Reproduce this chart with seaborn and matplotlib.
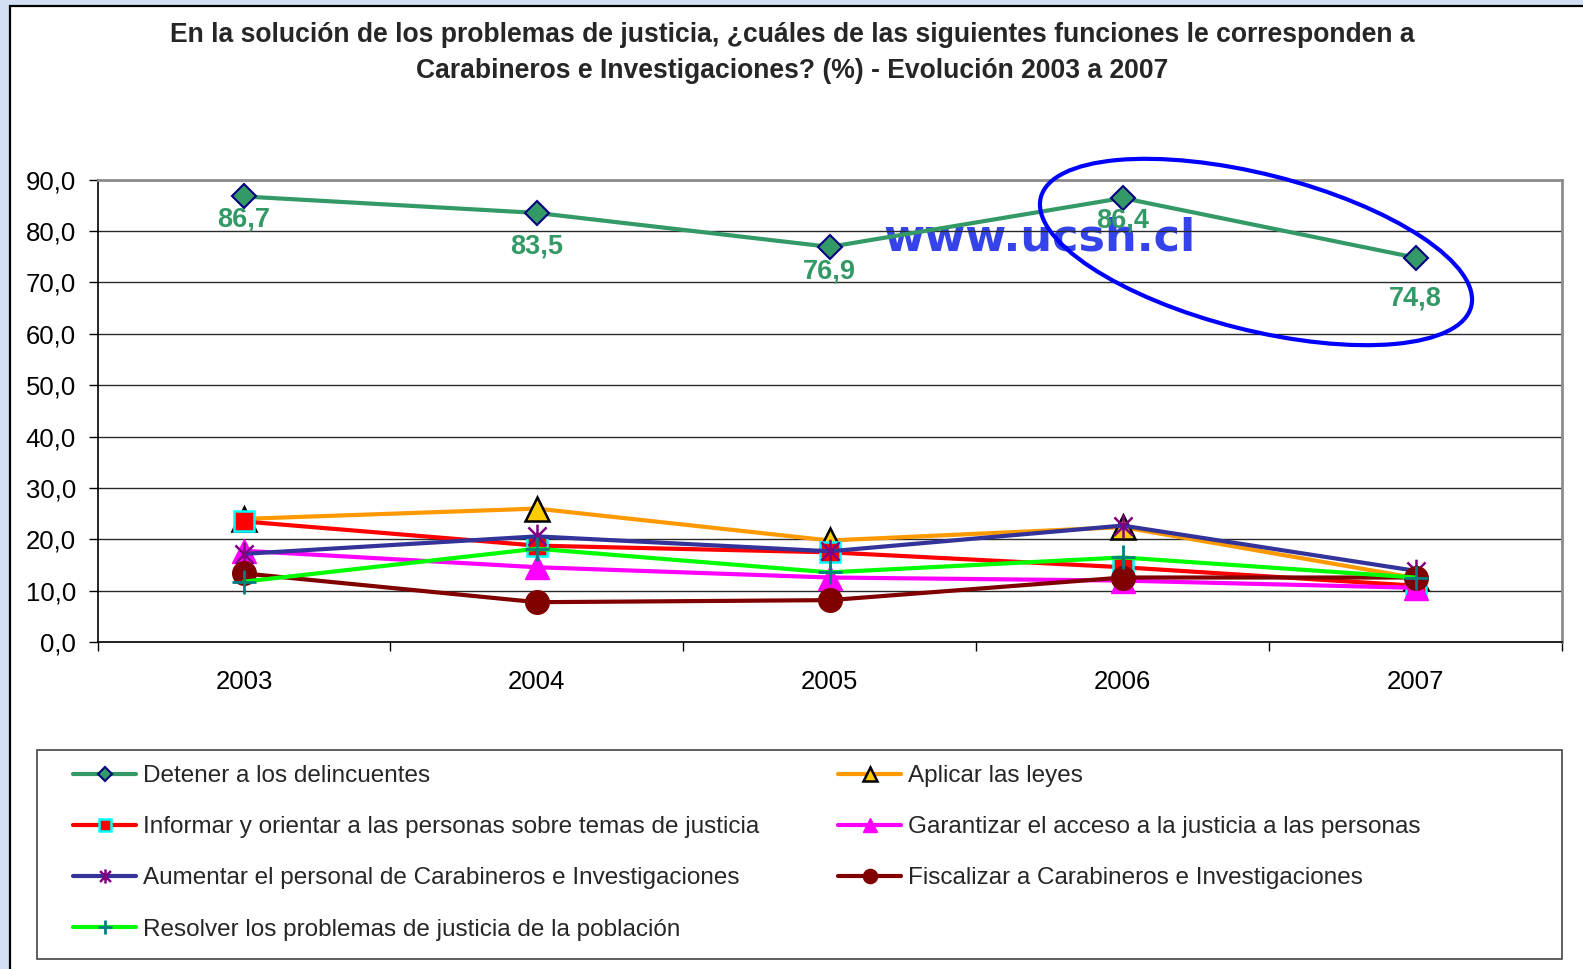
import numpy as np
import pandas as pd
import matplotlib
matplotlib.use("Agg")
import matplotlib.pyplot as plt
from matplotlib.patches import Rectangle, Ellipse
from matplotlib.path import Path
import seaborn as sns

years = ["2003", "2004", "2005", "2006", "2007"]

detener = [86.7, 83.5, 76.9, 86.4, 74.8]
aplicar = [24.0, 26.0, 19.8, 22.4, 12.5]
informar = [23.5, 18.8, 17.5, 14.6, 11.0]
garantizar = [17.8, 14.6, 12.6, 12.0, 10.6]
aumentar = [17.2, 20.6, 17.7, 22.7, 13.9]
fiscalizar = [13.4, 7.8, 8.2, 12.6, 12.6]
resolver = [11.8, 18.2, 13.6, 16.5, 12.6]

labels = [
    "Detener a los delincuentes",
    "Aplicar las leyes",
    "Informar y orientar a las personas sobre temas de justicia",
    "Garantizar el acceso a la justicia a las personas",
    "Aumentar el personal de Carabineros e Investigaciones",
    "Fiscalizar a Carabineros e Investigaciones",
    "Resolver los problemas de justicia de la población",
]

title = ("En la solución de los problemas de justicia, ¿cuáles de las siguientes funciones le corresponden a\n"
         "Carabineros e Investigaciones? (%) - Evolución 2003 a 2007")

sns.set_theme(style="white")
plt.rcParams["font.family"] = ["Liberation Sans", "DejaVu Sans"]

W, H = 1583, 969
fig = plt.figure(figsize=(W / 100, H / 100), dpi=100)
fig.patch.set_facecolor("#d3e0f4")

# white panel with black frame (cut off at right/bottom)
fig.add_artist(Rectangle((10 / W, -0.1), 1.2, (H - 6) / H + 0.1, transform=fig.transFigure,
                         facecolor="white", edgecolor="black", linewidth=1.6, zorder=-10))

ax = fig.add_axes([97.5 / W, 1 - 642.3 / H, (1562 - 97.5) / W, (642.3 - 179.5) / H])

# excel-like star marker (X + vertical)
star = Path([(-1, -1), (1, 1), (-1, 1), (1, -1), (0, -1.3), (0, 1.3)],
            [Path.MOVETO, Path.LINETO, Path.MOVETO, Path.LINETO, Path.MOVETO, Path.LINETO])

pos = np.arange(len(years))
series = [
    (detener, labels[0], dict(color="#339966", marker="D", markersize=12, markerfacecolor="#339966",
                              markeredgecolor="#000080", markeredgewidth=1.5)),
    (aplicar, labels[1], dict(color="#ff9900", marker="^", markersize=17, markerfacecolor="#ffcc00",
                              markeredgecolor="black", markeredgewidth=1.8)),
    (informar, labels[2], dict(color="#ff0000", marker="s", markersize=15, markerfacecolor="#ff0000",
                               markeredgecolor="#00ffff", markeredgewidth=1.8)),
    (garantizar, labels[3], dict(color="#ff00ff", marker="^", markersize=17, markerfacecolor="#ff00ff",
                                 markeredgecolor="#ff00ff", markeredgewidth=1)),
    (aumentar, labels[4], dict(color="#333399", marker=star, markersize=17, markerfacecolor="none",
                               markeredgecolor="#800080", markeredgewidth=1.8)),
    (fiscalizar, labels[5], dict(color="#800000", marker="o", markersize=17, markerfacecolor="#800000",
                                 markeredgecolor="#800000", markeredgewidth=1)),
    (resolver, labels[6], dict(color="#00ff00", marker="+", markersize=17, markerfacecolor="#008080",
                               markeredgecolor="#008080", markeredgewidth=2)),
]
for vals, lab, kw in series:
    sns.lineplot(x=pos, y=vals, ax=ax, label=lab, linewidth=3, legend=False, zorder=3, **kw)

# watermark (under the lines)
fig.text(1040 / W, 1 - 238 / H, "www.ucsh.cl", color="#1f2fe8", fontsize=32, fontweight="bold",
         family="DejaVu Sans", ha="center", va="center", alpha=0.9, zorder=0.5)
ax.set_zorder(1)
ax.patch.set_alpha(0)

# data labels for main series
label_dy = [-23, -34, -25, -22, -41]
for i, v in enumerate(detener):
    ax.annotate(f"{v:.1f}".replace(".", ","), (pos[i], v), xytext=(0, label_dy[i] * 0.72),
                textcoords="offset points", ha="center", va="center", color="#339966",
                fontsize=19.5, fontweight="bold", zorder=5)

ax.set_xlim(-0.5, len(years) - 0.5)
ax.set_ylim(0, 90)
ax.set_yticks(np.arange(0, 91, 10))
ax.set_yticklabels([f"{t:.1f}".replace(".", ",") for t in np.arange(0, 91, 10)])
ax.set_xticks(pos)
ax.set_xticklabels(years)
ax.set_xticks(np.arange(-0.5, len(years), 1), minor=True)
ax.tick_params(axis="x", which="major", length=0, pad=20, labelsize=18.5, colors="black")
ax.tick_params(axis="x", which="minor", length=6.5, width=1, direction="out", color="black", bottom=True)
ax.tick_params(axis="y", length=6.5, width=1, direction="out", pad=9, labelsize=18.5, left=True, colors="black")
ax.set_xlabel("")
ax.set_ylabel("")
ax.yaxis.grid(True, color="#2a2a2a", linewidth=1.0)
ax.set_axisbelow(True)
for s in ["left", "bottom"]:
    ax.spines[s].set_color("black")
    ax.spines[s].set_linewidth(1.2)
for s in ["top", "right"]:
    ax.spines[s].set_color("#8c8c8c")
    ax.spines[s].set_linewidth(2)

fig.text(792 / W, 1 - 53 / H, title, ha="center", va="center", fontsize=19.1, fontweight="bold",
         linespacing=1.5)

# blue ellipse highlight
fig.add_artist(Ellipse((12.56, (H - 252) / 100), 4.44, 1.56, angle=-14.2, transform=fig.dpi_scale_trans,
                       fill=False, edgecolor="#0000ff", linewidth=3, zorder=10))

# legend frame + two columns
fig.add_artist(Rectangle((36.7 / W, 1 - 959 / H), (1562 - 36.7) / W, (959 - 750) / H,
                         transform=fig.transFigure, facecolor="none", edgecolor="#444444",
                         linewidth=1.2, zorder=2))
handles, labs = ax.get_legend_handles_labels()
left_idx = [0, 2, 4, 6]
right_idx = [1, 3, 5]
leg_kw = dict(loc="upper left", frameon=False, borderpad=0, borderaxespad=0, handlelength=2.6,
              handletextpad=0.3, labelspacing=1.2, markerscale=0.6,
              prop={"family": ["Liberation Sans", "DejaVu Sans"], "size": 17.5})
fig.legend([handles[i] for i in left_idx], [labs[i] for i in left_idx],
           bbox_to_anchor=(73 / W, 1 - 765 / H), **leg_kw)
fig.legend([handles[i] for i in right_idx], [labs[i] for i in right_idx],
           bbox_to_anchor=(838 / W, 1 - 765 / H), **leg_kw)

fig.savefig("out.png", dpi=100)
